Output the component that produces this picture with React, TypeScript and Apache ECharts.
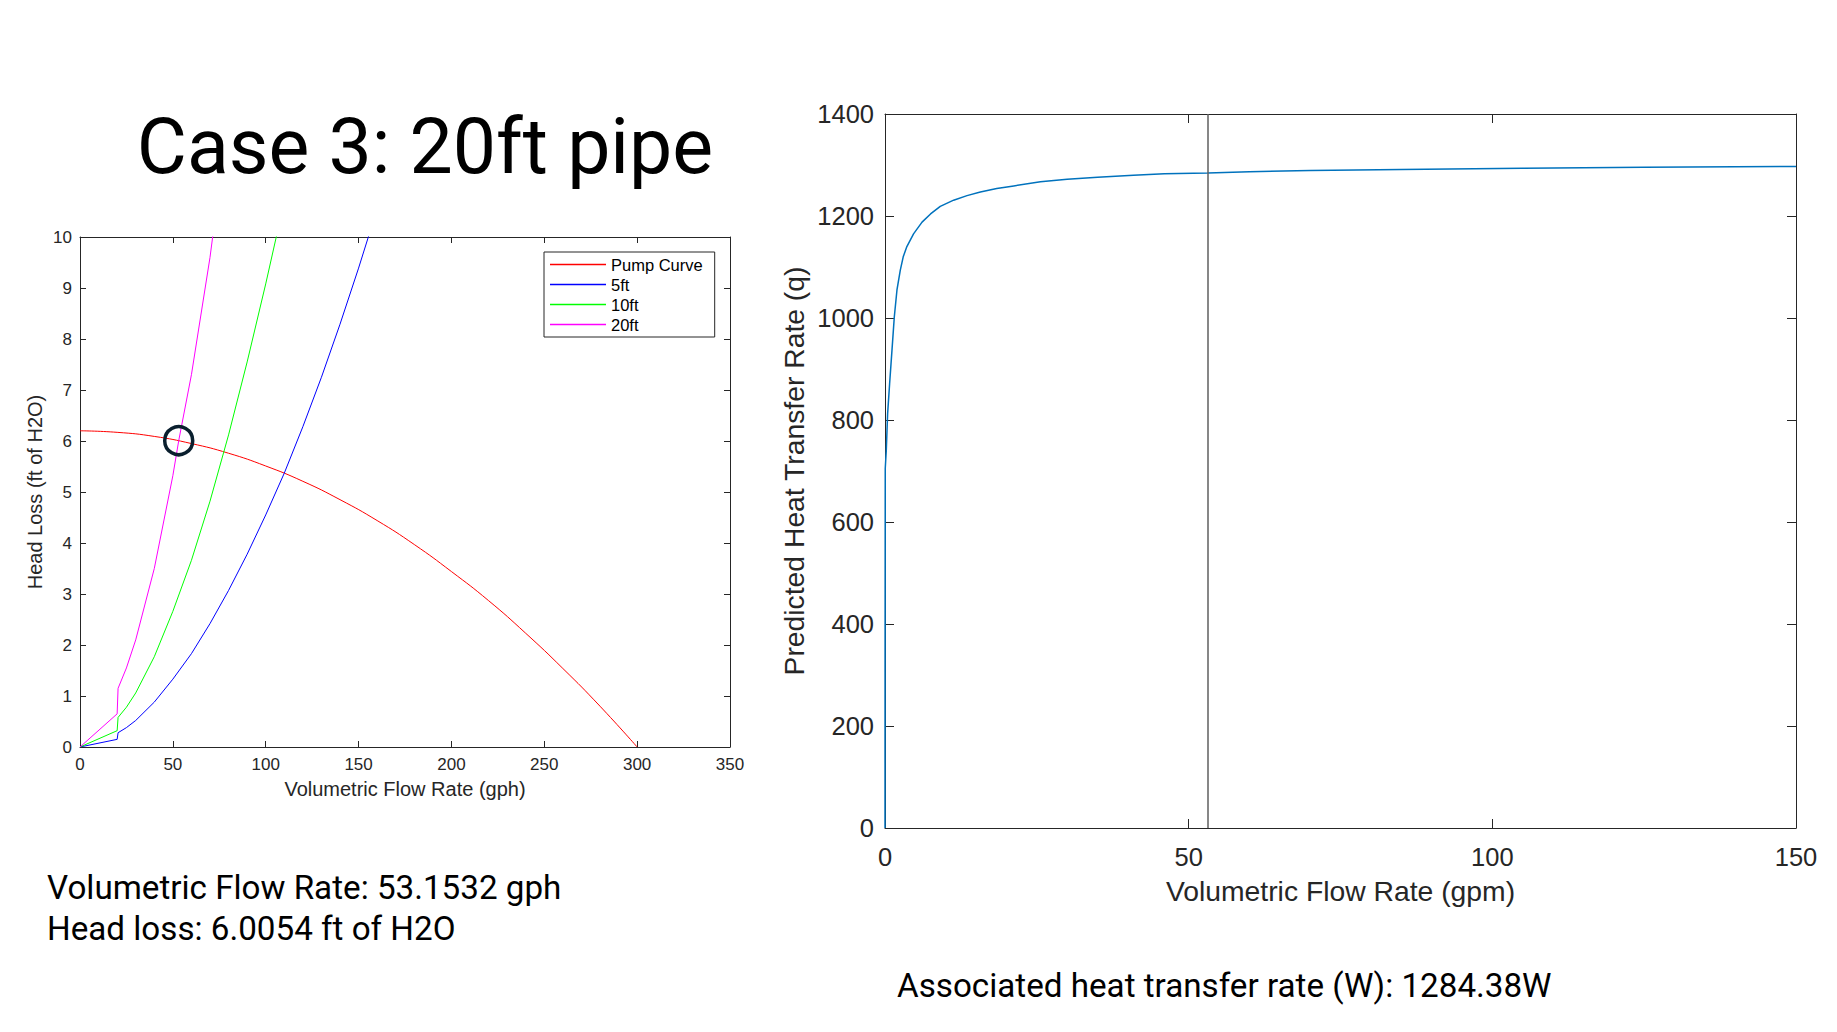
import React, { useEffect, useRef } from "react";
import * as echarts from "echarts";

// ---------- texts ----------
const titleText = "Case 3: 20ft pipe";
const infoLines = ["Volumetric Flow Rate: 53.1532 gph", "Head loss: 6.0054 ft of H2O"];
const heatText = "Associated heat transfer rate (W): 1284.38W";
const legendNames = ["Pump Curve", "5ft", "10ft", "20ft"];

// ---------- left chart data (gph, ft of H2O) ----------
const pumpFlow = [0, 20, 40, 60, 80, 100, 120, 140, 160, 180, 200, 220, 240, 260, 280, 300];
const pumpHead = [6.2, 6.17, 6.09, 5.95, 5.76, 5.51, 5.21, 4.85, 4.44, 3.97, 3.44, 2.87, 2.23, 1.54, 0.8, 0];

const pipe5Flow = [0, 20, 20.5, 25, 30, 40, 50, 60, 70, 80, 90, 100, 110, 120, 130, 140, 150, 160];
const pipe5Head = [0, 0.15, 0.28, 0.38, 0.52, 0.88, 1.33, 1.83, 2.42, 3.07, 3.78, 4.55, 5.37, 6.28, 7.25, 8.29, 9.39, 10.55];

const pipe10Flow = [0, 20, 20.5, 25, 30, 40, 50, 60, 70, 80, 90, 100, 110];
const pipe10Head = [0, 0.32, 0.58, 0.78, 1.06, 1.77, 2.66, 3.66, 4.82, 6.12, 7.55, 9.08, 10.7];

const pipe20Flow = [0, 20, 20.5, 25, 30, 40, 50, 53.1532, 60, 70, 75];
const pipe20Head = [0, 0.65, 1.15, 1.55, 2.1, 3.5, 5.32, 6.0054, 7.3, 9.6, 11.0];

const opFlow = 53.1532;
const opHead = 6.0054;

// ---------- right chart data (gpm, W) ----------
const heatFlow = [0, 0.01, 0.04, 0.21, 0.43, 0.76, 1.15, 1.53, 1.97, 2.52, 3.0, 3.6, 4.7, 6.1, 7.5, 9.1, 11.3, 13.5, 15.7, 18.4, 21.2, 25.6, 30, 35, 40.9, 46, 53.15, 60, 70, 85, 105, 125, 150];
const heatRate = [0, 306, 705, 740, 812, 871, 937, 1002, 1055, 1094, 1120, 1140, 1165, 1188, 1204, 1219, 1231, 1240, 1247, 1254, 1259, 1267, 1272, 1276, 1280, 1283, 1284.4, 1287, 1289, 1291, 1293.5, 1295.5, 1297];

const AXIS = "#262626";
const CHART_FONT = "Liberation Sans";
const TEXT_FONT = "Roboto";

const zip = (xs: number[], ys: number[]) => xs.map((x, i) => [x, ys[i]]);
const plain = (v: number) => String(v);

export default function App() {
  const ref = useRef<HTMLDivElement>(null);

  useEffect(() => {
    if (!ref.current) return;
    const chart = echarts.init(ref.current, undefined, { renderer: "svg" });

    const boxAxis = (gridIndex: number, pos: string, min: number, max: number, interval: number, tickLen: number) => ({
      gridIndex,
      type: "value",
      position: pos,
      min,
      max,
      interval,
      axisLine: { show: true, onZero: false, lineStyle: { color: AXIS, width: 1 } },
      axisTick: { show: true, inside: true, length: tickLen, lineStyle: { color: AXIS } },
      axisLabel: { show: false },
      splitLine: { show: false },
    });

    const option: any = {
      animation: false,
      backgroundColor: "#ffffff",
      textStyle: { fontFamily: CHART_FONT },
      grid: [
        { left: 80, top: 237, width: 650, height: 510 },
        { left: 885, top: 114, width: 911, height: 714 },
      ],
      xAxis: [
        {
          ...boxAxis(0, "bottom", 0, 350, 50, 6),
          axisLabel: { show: true, fontSize: 17, color: AXIS, margin: 9, fontFamily: CHART_FONT, formatter: plain },
          name: "Volumetric Flow Rate (gph)",
          nameLocation: "middle",
          nameGap: 32,
          nameTextStyle: { fontSize: 20, color: AXIS, fontFamily: CHART_FONT },
        },
        boxAxis(0, "top", 0, 350, 50, 6),
        {
          ...boxAxis(1, "bottom", 0, 150, 50, 9),
          axisLabel: { show: true, fontSize: 25.5, color: AXIS, margin: 16, fontFamily: CHART_FONT, formatter: plain },
          name: "Volumetric Flow Rate (gpm)",
          nameLocation: "middle",
          nameGap: 49,
          nameTextStyle: { fontSize: 28.3, color: AXIS, fontFamily: CHART_FONT },
        },
        boxAxis(1, "top", 0, 150, 50, 9),
      ],
      yAxis: [
        {
          ...boxAxis(0, "left", 0, 10, 1, 6),
          axisLabel: { show: true, fontSize: 17, color: AXIS, margin: 8, fontFamily: CHART_FONT, formatter: plain },
          name: "Head Loss (ft of H2O)",
          nameLocation: "middle",
          nameGap: 35,
          nameTextStyle: { fontSize: 20, color: AXIS, fontFamily: CHART_FONT },
        },
        boxAxis(0, "right", 0, 10, 1, 6),
        {
          ...boxAxis(1, "left", 0, 1400, 200, 9),
          axisLabel: { show: true, fontSize: 25.5, color: AXIS, margin: 11, fontFamily: CHART_FONT, formatter: plain },
          name: "Predicted Heat Transfer Rate (q)",
          nameLocation: "middle",
          nameGap: 77,
          nameTextStyle: { fontSize: 28.3, color: AXIS, fontFamily: CHART_FONT },
        },
        boxAxis(1, "right", 0, 1400, 200, 9),
      ],
      legend: {
        data: legendNames,
        orient: "vertical",
        left: 544,
        top: 252,
        icon: "rect",
        itemWidth: 56,
        itemHeight: 1.3,
        itemGap: 3,
        padding: [4, 12, 4, 6],
        borderColor: AXIS,
        borderWidth: 1,
        borderRadius: 0,
        backgroundColor: "#ffffff",
        textStyle: { fontSize: 16.5, color: "#000", fontFamily: CHART_FONT },
      },
      series: [
        {
          name: legendNames[0],
          type: "line",
          xAxisIndex: 0,
          yAxisIndex: 0,
          data: zip(pumpFlow, pumpHead),
          smooth: true,
          symbol: "none",
          lineStyle: { color: "#ff0000", width: 1 },
          itemStyle: { color: "#ff0000" },
        },
        {
          name: legendNames[1],
          type: "line",
          xAxisIndex: 0,
          yAxisIndex: 0,
          data: zip(pipe5Flow, pipe5Head),
          symbol: "none",
          lineStyle: { color: "#0000ff", width: 1 },
          itemStyle: { color: "#0000ff" },
        },
        {
          name: legendNames[2],
          type: "line",
          xAxisIndex: 0,
          yAxisIndex: 0,
          data: zip(pipe10Flow, pipe10Head),
          symbol: "none",
          lineStyle: { color: "#00ff00", width: 1 },
          itemStyle: { color: "#00ff00" },
        },
        {
          name: legendNames[3],
          type: "line",
          xAxisIndex: 0,
          yAxisIndex: 0,
          data: zip(pipe20Flow, pipe20Head),
          symbol: "none",
          lineStyle: { color: "#ff00ff", width: 1 },
          itemStyle: { color: "#ff00ff" },
        },
        {
          name: "operating point",
          type: "scatter",
          xAxisIndex: 0,
          yAxisIndex: 0,
          data: [[opFlow, opHead]],
          symbol: "circle",
          symbolSize: 28,
          z: 10,
          itemStyle: { color: "rgba(0,0,0,0)", borderColor: "#0a1f2e", borderWidth: 3.5, opacity: 1 },
        },
        {
          name: "heat",
          type: "line",
          xAxisIndex: 2,
          yAxisIndex: 2,
          data: zip(heatFlow, heatRate),
          symbol: "none",
          lineStyle: { color: "#0072BD", width: 1.5 },
          markLine: {
            silent: true,
            symbol: ["none", "none"],
            label: { show: false },
            lineStyle: { color: "#5f5f5f", width: 1.5, type: "solid" },
            data: [{ xAxis: opFlow }],
          },
        },
      ],
      graphic: [
        {
          type: "text",
          x: 425,
          y: 147,
          style: {
            text: titleText,
            fontFamily: TEXT_FONT,
            fontSize: 77,
            fill: "#000",
            textAlign: "center",
            textVerticalAlign: "middle",
          },
        },
        {
          type: "text",
          x: 47,
          y: 887,
          style: {
            text: infoLines[0],
            fontFamily: TEXT_FONT,
            fontSize: 33.2,
            fill: "#000",
            textAlign: "left",
            textVerticalAlign: "middle",
          },
        },
        {
          type: "text",
          x: 47,
          y: 928,
          style: {
            text: infoLines[1],
            fontFamily: TEXT_FONT,
            fontSize: 33.2,
            fill: "#000",
            textAlign: "left",
            textVerticalAlign: "middle",
          },
        },
        {
          type: "text",
          x: 897,
          y: 985,
          style: {
            text: heatText,
            fontFamily: TEXT_FONT,
            fontSize: 33.2,
            fill: "#000",
            textAlign: "left",
            textVerticalAlign: "middle",
          },
        },
      ],
    };

    chart.setOption(option);
    return () => chart.dispose();
  }, []);

  return (
    <div
      ref={ref}
      style={{ position: "fixed", left: 0, top: 0, width: 1837, height: 1032, background: "#fff" }}
    />
  );
}
